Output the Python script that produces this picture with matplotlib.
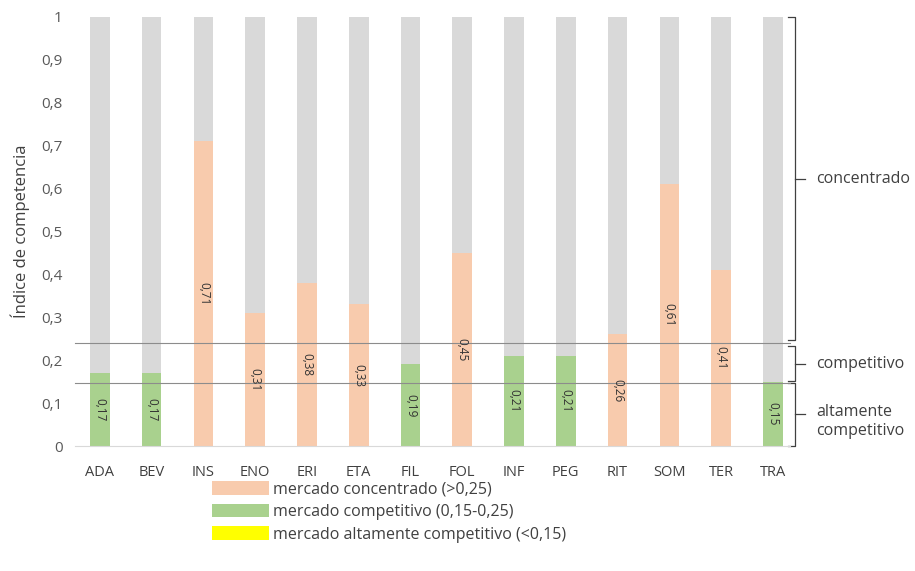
import matplotlib
matplotlib.use("Agg")
import matplotlib.pyplot as plt
from matplotlib.patches import Patch

plt.rcParams['font.family'] = ['Open Sans', 'DejaVu Sans']

categories = ["ADA", "BEV", "INS", "ENO", "ERI", "ETA", "FIL", "FOL", "INF", "PEG", "RIT", "SOM", "TER", "TRA"]
values = [0.17, 0.17, 0.71, 0.31, 0.38, 0.33, 0.19, 0.45, 0.21, 0.21, 0.26, 0.61, 0.41, 0.15]
market_class = ["comp", "comp", "conc", "conc", "conc", "conc", "comp", "conc", "comp", "comp", "conc", "conc", "conc", "comp"]
value_labels = ["0,17", "0,17", "0,71", "0,31", "0,38", "0,33", "0,19", "0,45", "0,21", "0,21", "0,26", "0,61", "0,41", "0,15"]
yticks = [0, 0.1, 0.2, 0.3, 0.4, 0.5, 0.6, 0.7, 0.8, 0.9, 1.0]
ytick_labels = ["0", "0,1", "0,2", "0,3", "0,4", "0,5", "0,6", "0,7", "0,8", "0,9", "1"]
thresholds = [0.24, 0.148]
legend_labels = ["mercado concentrado (>0,25)", "mercado competitivo (0,15-0,25)", "mercado altamente competitivo (<0,15)"]

colors = {"conc": "#F8CBAD", "comp": "#A9D18E", "alt": "#FFFF00"}
grey = "#D9D9D9"

fig = plt.figure(figsize=(9.15, 5.71), dpi=100)
ax = fig.add_axes([75/915, 1-446/571, 715/915, 429/571])

x = list(range(len(categories)))
w = 0.38
ax.bar(x, [1.0]*len(x), width=w, color=grey, zorder=1)
ax.bar(x, values, width=w, color=[colors[c] for c in market_class], zorder=2)

for xi, v, lab in zip(x, values, value_labels):
    ax.text(xi, v/2, lab, rotation=270, ha='center', va='center', fontsize=8.5, color='#333333', zorder=4)

for t in thresholds:
    ax.axhline(t, color='#8C8C8C', lw=0.8, zorder=3, clip_on=False)

ax.set_xlim(-0.48, 13.33)
ax.set_ylim(0, 1.0)
ax.set_xticks(x)
ax.set_xticklabels(categories, fontsize=10.5, color='#404040')
ax.set_yticks(yticks)
ax.set_yticklabels(ytick_labels, fontsize=11, color='#595959')
ax.tick_params(length=0)
ax.tick_params(axis='y', pad=9)
ax.tick_params(axis='x', pad=14)
for s in ['top', 'right', 'left']:
    ax.spines[s].set_visible(False)
ax.spines['bottom'].set_color('#D9D9D9')
ax.set_ylabel("Índice de competencia", fontsize=12, color='#404040', labelpad=8)

# brackets on the right
tr = ax.get_yaxis_transform()
bx = 1.007
hook = 0.01
tickr = 0.014
brackets = [(1.0, 0.246, "concentrado"), (0.233, 0.151, "competitivo"), (0.147, 0.0, "altamente\ncompetitivo")]
label_offsets = [0.0, 0.0, -0.016]
for (top, bot, lab), off in zip(brackets, label_offsets):
    ax.plot([bx - hook, bx, bx, bx - hook], [top, top, bot, bot], transform=tr, color='#404040', lw=0.9, clip_on=False)
    mid = (top + bot) / 2
    ax.plot([bx, bx + tickr], [mid, mid], transform=tr, color='#404040', lw=0.9, clip_on=False)
    ax.text(1.037, mid + off, lab, transform=tr, ha='left', va='center', fontsize=11.5, color='#404040', linespacing=1.25)

handles = [Patch(facecolor=colors[k], edgecolor='none') for k in ["conc", "comp", "alt"]]
fig.legend(handles, legend_labels, loc='upper left', bbox_to_anchor=(198/915, 1-467/571), frameon=False,
           handlelength=3.57, handleheight=0.94, handletextpad=0.2, labelspacing=0.38, fontsize=11.5,
           labelcolor='#404040')

fig.savefig("out.png", dpi=100, facecolor='white')
